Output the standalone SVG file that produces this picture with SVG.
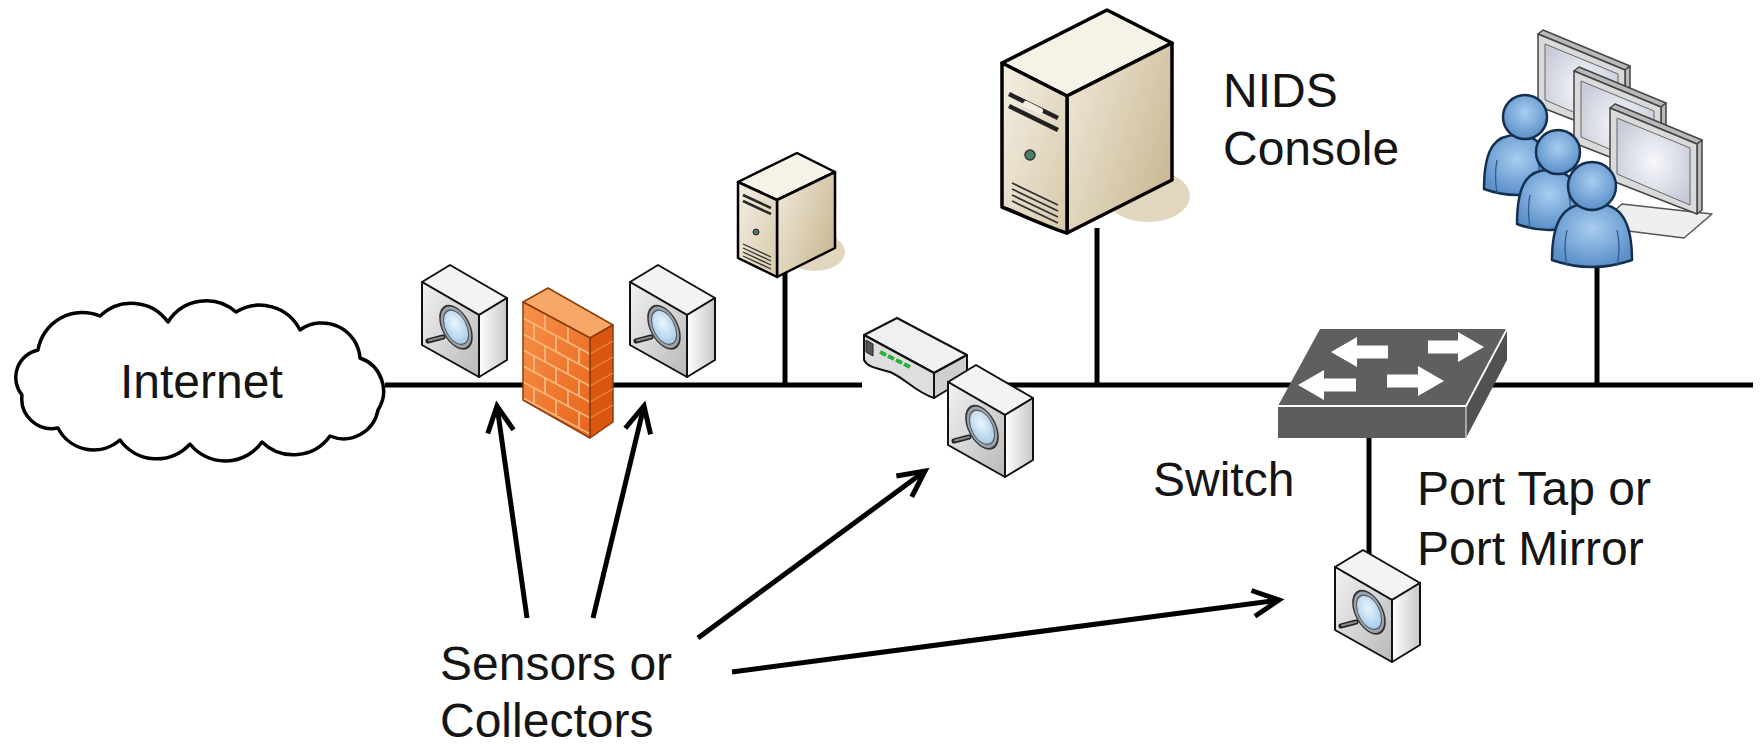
<svg xmlns="http://www.w3.org/2000/svg" xmlns:xlink="http://www.w3.org/1999/xlink" width="1762" height="744" viewBox="0 0 1762 744">
  <style>
    .lbl { font-family: "Liberation Sans", Arial, sans-serif; font-size: 48px; fill: #151515; }
    .wire { stroke: #000; stroke-width: 5; fill: none; }
    .ptr { stroke: #000; stroke-width: 5; fill: none; marker-end: url(#chev); }
    .edge { stroke: #111; stroke-width: 2; stroke-linejoin: round; }
    .srv { stroke: #000; stroke-linejoin: round; }
    .mortar { stroke: #f9b77e; stroke-width: 1.8; fill: none; }
    .mon { fill: #dadada; stroke: #444; stroke-width: 1.5; stroke-linejoin: round; }
    .monside { fill: #b9b9b9; stroke: #444; stroke-width: 1.5; stroke-linejoin: round; }
    .screen { fill: url(#screenGrad); stroke: #666; stroke-width: 1; }
    .person { fill: url(#personGrad); stroke: #14304f; stroke-width: 2.5; stroke-linejoin: round; }
    .arm { stroke: #2f5c8c; stroke-width: 1.3; fill: none; }
    .swArrow { fill: #fff; }
  </style>
  <defs>
    <marker id="chev" markerUnits="userSpaceOnUse" viewBox="-32 -20 40 40" markerWidth="40" markerHeight="40" refX="0" refY="0" orient="auto" overflow="visible">
      <path d="M-26,-13 L0,0 L-26,13" fill="none" stroke="#000" stroke-width="5" stroke-linejoin="miter"/>
    </marker>
    <linearGradient id="sFront" x1="0" y1="0" x2="1" y2="1">
      <stop offset="0" stop-color="#f2f2f2"/>
      <stop offset="1" stop-color="#b9b9b9"/>
    </linearGradient>
    <linearGradient id="sRight" x1="0" y1="0" x2="1" y2="0">
      <stop offset="0" stop-color="#ffffff"/>
      <stop offset="1" stop-color="#c8c8c8"/>
    </linearGradient>
    <radialGradient id="lensGrad" cx="0.45" cy="0.4" r="0.6">
      <stop offset="0" stop-color="#eaf5fd"/>
      <stop offset="1" stop-color="#a9cdea"/>
    </radialGradient>
    <linearGradient id="fwFront" x1="0" y1="0" x2="1" y2="1">
      <stop offset="0" stop-color="#f7914a"/>
      <stop offset="1" stop-color="#e8651b"/>
    </linearGradient>
    <linearGradient id="srvFront" x1="0" y1="0" x2="1" y2="1">
      <stop offset="0" stop-color="#f5f0e4"/>
      <stop offset="1" stop-color="#d6c8aa"/>
    </linearGradient>
    <linearGradient id="srvRight" x1="0" y1="0" x2="1" y2="0.6">
      <stop offset="0" stop-color="#f1eadb"/>
      <stop offset="1" stop-color="#cbbb98"/>
    </linearGradient>
    <radialGradient id="screenGrad" cx="0.5" cy="0.5" r="0.6">
      <stop offset="0" stop-color="#f7f8fc"/>
      <stop offset="1" stop-color="#c7cad8"/>
    </radialGradient>
    <radialGradient id="personGrad" cx="0.5" cy="0.4" r="0.6">
      <stop offset="0" stop-color="#a9cdf0"/>
      <stop offset="1" stop-color="#5a8fc9"/>
    </radialGradient>
    <clipPath id="fwClip">
      <polygon points="523,302 590,338 590,438 523,400"/>
    </clipPath>

    <!-- network sensor box, origin at its front top-left corner -->
    <g id="sensorShape">
      <polygon class="edge" fill="#f3f3f3" points="0,0 28,-17 85,16 57,33"/>
      <polygon class="edge" fill="url(#sFront)" points="0,0 57,33 57,95 0,63"/>
      <polygon class="edge" fill="url(#sRight)" points="57,33 85,16 85,78 57,95"/>
      <line x1="21" y1="55" x2="6" y2="59" stroke="#222" stroke-width="5" stroke-linecap="round"/>
      <line x1="21" y1="55" x2="7" y2="58.5" stroke="#8a8a8a" stroke-width="2" stroke-linecap="round"/>
      <g transform="matrix(1,0.58,0,1,0,0)">
        <ellipse cx="34" cy="25.5" rx="16" ry="19.5" fill="#9aa3ab" stroke="#333" stroke-width="1.6"/>
        <ellipse cx="34" cy="25.5" rx="12.5" ry="15.5" fill="url(#lensGrad)" stroke="#555" stroke-width="1"/>
      </g>
    </g>
  </defs>

  <rect width="1762" height="744" fill="#ffffff"/>

  <!-- backbone and drop cables -->
  <g id="connectors">
    <path class="wire" d="M385,385 H862"/>
    <path class="wire" d="M1000,385 H1753"/>
    <path class="wire" d="M785,270 V385"/>
    <path class="wire" d="M1097,228 V385"/>
    <path class="wire" d="M1597,262 V385"/>
    <path class="wire" stroke-width="4" d="M1369,436 V556"/>
    <!-- pointers from the label to each sensor -->
    <path class="ptr" d="M527,618 L497,406"/>
    <path class="ptr" d="M593,618 L644,406"/>
    <path class="ptr" d="M698,638 L925,471"/>
    <path class="ptr" d="M732,672 L1279,600"/>
  </g>

  <!-- Internet cloud -->
  <g id="internet">
    <path d="M38,350 A45,45 0 0 1 100,316 A45,45 0 0 1 168,322 A45,45 0 0 1 236,312 A45,45 0 0 1 300,330 A38,38 0 0 1 360,358 A35,35 0 0 1 378,410 A35,35 0 0 1 330,436 A45,45 0 0 1 262,442 A45,45 0 0 1 190,444 A45,45 0 0 1 120,440 A40,40 0 0 1 58,428 A30,30 0 0 1 22,395 A28,28 0 0 1 38,350 Z" fill="#fff" stroke="#000" stroke-width="3.5" stroke-linejoin="round"/>
    <text class="lbl" x="120" y="398">Internet</text>
  </g>

  <!-- sensor outside the firewall -->
  <g id="sensor-outer">
    <use xlink:href="#sensorShape" transform="translate(422,282)"/>
  </g>

  <!-- firewall -->
  <g id="firewall">
    <polygon points="523,302 548,288 613,325 590,338" fill="#f7a867" stroke="#8a3d0c" stroke-width="1.5" stroke-linejoin="round"/>
    <polygon points="590,338 613,325 613,422 590,438" fill="#d9560f" stroke="#8a3d0c" stroke-width="1.5" stroke-linejoin="round"/>
    <polygon points="523,302 590,338 590,438 523,400" fill="url(#fwFront)"/>
    <g clip-path="url(#fwClip)">
      <path class="mortar" d="M523,318 L590,354 M523,334 L590,370 M523,350 L590,386 M523,366 L590,402 M523,382 L590,418 M523,398 L590,434"/>
      <path class="mortar" d="M545,313.8 V329.8 M568,326.2 V342.2
        M534,323.9 V339.9 M556,335.7 V351.7 M579,348.1 V364.1
        M545,345.8 V361.8 M568,358.2 V374.2
        M534,355.9 V371.9 M556,367.7 V383.7 M579,380.1 V396.1
        M545,377.8 V393.8 M568,390.2 V406.2
        M534,387.9 V403.9 M556,399.7 V415.7 M579,412.1 V428.1"/>
    </g>
    <path d="M590,354 L613,341 M590,370 L613,357 M590,386 L613,373 M590,402 L613,389 M590,418 L613,405" stroke="#ec8544" stroke-width="1.4"/>
    <polygon points="523,302 590,338 590,438 523,400" fill="none" stroke="#8a3d0c" stroke-width="1.5" stroke-linejoin="round"/>
  </g>

  <!-- sensor inside the firewall -->
  <g id="sensor-inner">
    <use xlink:href="#sensorShape" transform="translate(630,282)"/>
  </g>

  <!-- small server on the inside segment -->
  <g id="server">
    <ellipse cx="815" cy="252" rx="30" ry="19" fill="#e2d6bf"/>
    <polygon class="srv" stroke-width="2.5" fill="#f7f2e8" points="738,182 797,153 835,172 777,200"/>
    <polygon class="srv" stroke-width="2.5" fill="url(#srvRight)" points="777,200 835,172 835,248 777,277"/>
    <polygon class="srv" stroke-width="2.5" fill="url(#srvFront)" points="738,182 777,200 777,277 738,258"/>
    <path d="M743,195 L771,208 M743,201 L771,214" stroke="#2a2a2a" stroke-width="2.5"/>
    <circle cx="756" cy="232" r="3" fill="#4a7a6a" stroke="#222" stroke-width="1"/>
    <path d="M743,244 L771,257 M743,248 L771,261 M743,252 L771,265 M743,256 L771,269" stroke="#333" stroke-width="1.3"/>
  </g>

  <!-- router with attached sensor -->
  <g id="router">
    <polygon points="864,335 897,318 967,355 934,373" fill="#f0f0f0" stroke="#111" stroke-width="2" stroke-linejoin="round"/>
    <polygon points="934,373 967,355 967,378 934,398" fill="#cfcfcf" stroke="#111" stroke-width="2" stroke-linejoin="round"/>
    <path d="M864,335 L934,373 L934,398 C915,392 905,378 890,372 C878,368 868,368 864,360 Z" fill="#dedede" stroke="#111" stroke-width="2" stroke-linejoin="round"/>
    <path d="M866,340 L873,344 L873,356 L866,352 Z" fill="#555" stroke="#222" stroke-width="1"/>
    <path d="M880,352 L886,355 M888,356 L894,359 M896,360 L902,363 M904,364 L910,367" stroke="#2fae3a" stroke-width="4"/>
  </g>
  <g id="sensor-router">
    <use xlink:href="#sensorShape" transform="translate(948,382)"/>
  </g>

  <!-- NIDS console server -->
  <g id="nids-console">
    <ellipse cx="1148" cy="196" rx="42" ry="26" fill="#e2d6bf"/>
    <polygon class="srv" stroke-width="3.5" fill="#f7f2e8" points="1002,63 1107,10 1172,43 1067,96"/>
    <polygon class="srv" stroke-width="3.5" fill="url(#srvRight)" points="1067,96 1172,43 1172,180 1067,233"/>
    <path class="srv" stroke-width="3.5" fill="url(#srvFront)" d="M1002,63 L1067,96 L1067,233 C1045,226 1020,214 1002,207 Z"/>
    <path d="M1009,94 L1058,118 M1009,106 L1058,130" stroke="#222" stroke-width="4.5"/>
    <path d="M1026,104 L1040,111" stroke="#f3eee3" stroke-width="6" stroke-linecap="round"/>
    <circle cx="1030" cy="155" r="5" fill="#4a8070" stroke="#333" stroke-width="1.5"/>
    <path d="M1012,183 L1058,205 M1012,189 L1058,211 M1012,195 L1058,217 M1012,201 L1058,223" stroke="#333" stroke-width="1.8"/>
    <text class="lbl" x="1223" y="107">NIDS</text>
    <text class="lbl" x="1223" y="165">Console</text>
  </g>

  <!-- switch -->
  <g id="switch">
    <polygon points="1320,329 1507,329 1466,406 1278,406" fill="#5f5f5f"/>
    <polygon points="1278,406 1466,406 1466,438 1278,438" fill="#5d5d5d"/>
    <polygon points="1466,406 1507,329 1507,360 1466,438" fill="#515151"/>
    <path d="M1278,406 H1466 L1507,329" fill="none" stroke="#fff" stroke-width="1.8"/>
    <path d="M1466,406 V438" stroke="#ddd" stroke-width="1.2"/>
    <polygon class="swArrow" points="1331,352 1357,337 1357,345.5 1388,345.5 1388,358.5 1357,358.5 1357,367"/>
    <polygon class="swArrow" points="1484,347 1458,332 1458,340.5 1428,340.5 1428,353.5 1458,353.5 1458,362"/>
    <polygon class="swArrow" points="1298,385 1324,370 1324,378.5 1356,378.5 1356,391.5 1324,391.5 1324,400"/>
    <polygon class="swArrow" points="1444,381 1418,366 1418,374.5 1387,374.5 1387,387.5 1418,387.5 1418,396"/>
    <text class="lbl" x="1153" y="496">Switch</text>
  </g>

  <!-- port tap / mirror sensor -->
  <g id="sensor-tap">
    <use xlink:href="#sensorShape" transform="translate(1335,567)"/>
    <text class="lbl" x="1417" y="505">Port Tap or</text>
    <text class="lbl" x="1417" y="565">Port Mirror</text>
  </g>

  <!-- analyst workstations -->
  <g id="analysts">
    <polygon points="1622,204 1712,214 1684,238 1596,227" fill="#efefef" stroke="#555" stroke-width="1.5" stroke-linejoin="round"/>
    <g id="monitor-1">
      <polygon class="monside" points="1538,34 1543,30 1630,66 1625,70"/>
      <polygon class="monside" points="1625,70 1630,66 1630,136 1625,140"/>
      <polygon class="mon" points="1538,34 1625,70 1625,140 1538,106"/>
      <polygon class="screen" points="1545,44 1618,74 1618,131 1545,100"/>
    </g>
    <g id="monitor-2">
      <polygon class="monside" points="1574,71 1579,67 1666,103 1661,107"/>
      <polygon class="monside" points="1661,107 1666,103 1666,173 1661,177"/>
      <polygon class="mon" points="1574,71 1661,107 1661,177 1574,143"/>
      <polygon class="screen" points="1581,81 1654,111 1654,168 1581,137"/>
    </g>
    <g id="monitor-3">
      <polygon class="monside" points="1610,108 1615,104 1702,140 1697,144"/>
      <polygon class="monside" points="1697,144 1702,140 1702,210 1697,214"/>
      <polygon class="mon" points="1610,108 1697,144 1697,214 1610,180"/>
      <polygon class="screen" points="1617,118 1690,148 1690,205 1617,174"/>
    </g>
    <g id="user-1">
      <path class="person" d="M1484,189 C1484,145 1497,135 1517,135 C1537,135 1550,145 1550,189 Q1517,201 1484,189 Z"/>
      <path class="arm" d="M1497,160 Q1494,175 1497,193 M1538,160 Q1541,175 1538,193"/>
      <circle class="person" cx="1525" cy="117" r="22"/>
    </g>
    <g id="user-2">
      <path class="person" d="M1517,224 C1517,180 1530,170 1549,170 C1568,170 1581,180 1581,224 Q1549,236 1517,224 Z"/>
      <path class="arm" d="M1530,195 Q1527,210 1530,228 M1569,195 Q1572,210 1569,228"/>
      <circle class="person" cx="1558" cy="152" r="22"/>
    </g>
    <g id="user-3">
      <path class="person" d="M1552,260 C1552,214 1568,203 1592,203 C1616,203 1632,214 1632,260 Q1592,274 1552,260 Z"/>
      <path class="arm" d="M1567,230 Q1563,246 1567,266 M1617,230 Q1621,246 1617,266"/>
      <circle class="person" cx="1592" cy="186" r="24"/>
    </g>
  </g>

  <!-- caption for the pointers -->
  <g id="sensors-label">
    <text class="lbl" x="440" y="680">Sensors or</text>
    <text class="lbl" x="440" y="737">Collectors</text>
  </g>
</svg>
